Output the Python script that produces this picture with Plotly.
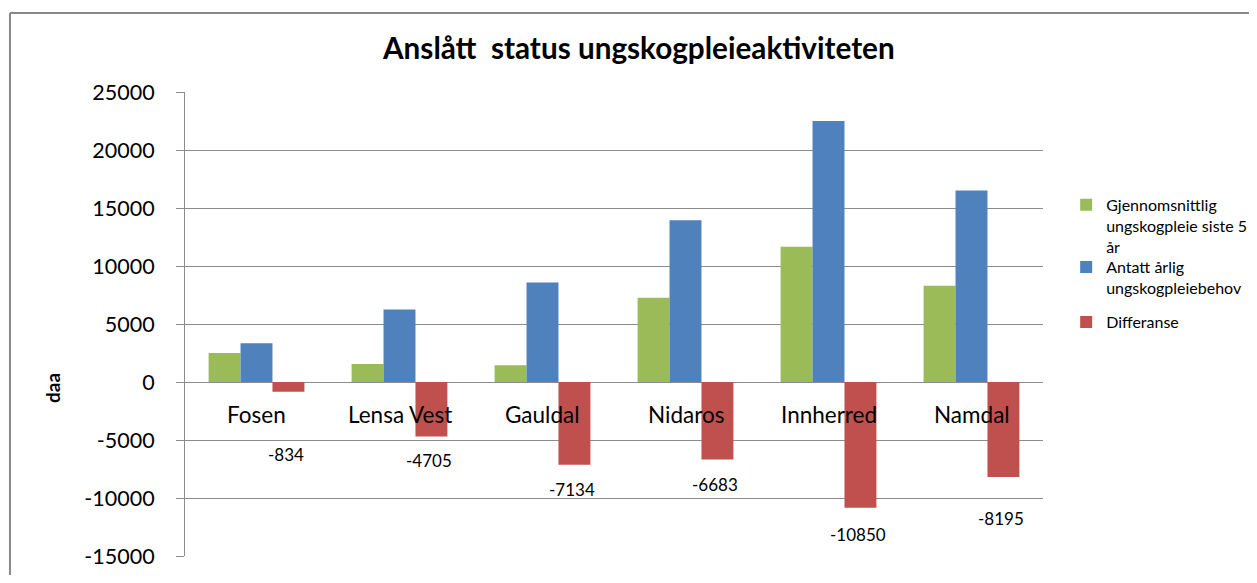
import plotly.graph_objects as go

# data
regions = ['Fosen', 'Lensa Vest', 'Gauldal', 'Nidaros', 'Innherred', 'Namdal']
avg_last5 = [2500, 1545, 1450, 7270, 11650, 8305]
annual_need = [3334, 6250, 8584, 13953, 22500, 16500]
difference = [-834, -4705, -7134, -6683, -10850, -8195]

y_ticks = [25000, 20000, 15000, 10000, 5000, 0, -5000, -10000, -15000]

# vertical pixel offsets of the Differanse labels (they were moved by hand in the original)
label_shift = [-50, -11, -12, -12, -14, -29]

FONT = 'Lato, Noto Sans, sans-serif'
GRID = '#8c8c8c'

fig = go.Figure()
fig.add_trace(go.Bar(x=regions, y=avg_last5, name='Gjennomsnittlig<br>ungskogpleie siste 5<br>år',
                     marker=dict(color='#9bbb59', line=dict(width=0)), legend='legend'))
fig.add_trace(go.Bar(x=regions, y=annual_need, name='Antatt årlig<br>ungskogpleiebehov',
                     marker=dict(color='#4f81bd', line=dict(width=0)), legend='legend2'))
fig.add_trace(go.Bar(x=regions, y=difference, name='Differanse',
                     marker=dict(color='#c0504d', line=dict(width=0)), legend='legend3'))

# data labels under the red bars
for i, (r, d) in enumerate(zip(regions, difference)):
    fig.add_annotation(x=r, y=d, xref='x', yref='y', text=str(d), showarrow=False,
                       xshift=29, yanchor='top', yshift=label_shift[i],
                       font=dict(family=FONT, size=17, color='black'))

# category labels sit just below the zero line
for r in regions:
    fig.add_annotation(x=r, y=0, xref='x', yref='y', text=r, showarrow=False,
                       yanchor='top', yshift=-17,
                       font=dict(family=FONT, size=22.5, color='black'))

fig.add_annotation(x=-0.155, y=0.362, xref='paper', yref='paper', text='<b>daa</b>',
                   textangle=-90, showarrow=False, xanchor='center', yanchor='middle',
                   font=dict(family=FONT, size=19, color='black'))

# chart frame (only top and left are visible in the crop)
fig.add_shape(type='line', xref='paper', yref='paper', x0=-0.204, x1=1.3, y0=1.17, y1=1.17,
              line=dict(color='#888888', width=2))
fig.add_shape(type='line', xref='paper', yref='paper', x0=-0.204, x1=-0.204, y0=-0.2, y1=1.17,
              line=dict(color='#888888', width=2))

legend_style = dict(x=1.027, xanchor='left', yanchor='top', valign='top',
                    font=dict(family=FONT, size=16, color='black'), bgcolor='rgba(0,0,0,0)')

fig.update_layout(
    width=1262, height=567,
    margin=dict(l=177, r=227, t=84, b=19, autoexpand=False),
    paper_bgcolor='white', plot_bgcolor='white',
    barmode='group', bargap=0.33, bargroupgap=0,
    # title centre sits a bit right of the plot centre in the original
    title=dict(text='<b>Anslått\u00a0 status ungskogpleieaktiviteten</b>', x=0.529,
               xanchor='center', xref='paper', y=0.929, yanchor='middle',
               font=dict(family=FONT, size=29.7, color='black')),
    font=dict(family=FONT, color='black'),
    legend=dict(y=0.7935, **legend_style),
    legend2=dict(y=0.659, **legend_style),
    legend3=dict(y=0.5405, **legend_style),
    showlegend=True,
)
fig.update_xaxes(showticklabels=False, showgrid=False, showline=False, ticks='',
                 zeroline=False)
fig.update_yaxes(range=[-15000, 25000], tickvals=y_ticks, ticktext=[str(v) for v in y_ticks],
                 showgrid=True, gridcolor=GRID, gridwidth=1,
                 zeroline=True, zerolinecolor=GRID, zerolinewidth=1,
                 showline=True, linecolor=GRID, linewidth=1,
                 ticks='outside', ticklen=8, tickcolor=GRID, ticklabelstandoff=17,
                 tickfont=dict(family=FONT, size=21.5, color='black'))

fig.write_html('out.html')
